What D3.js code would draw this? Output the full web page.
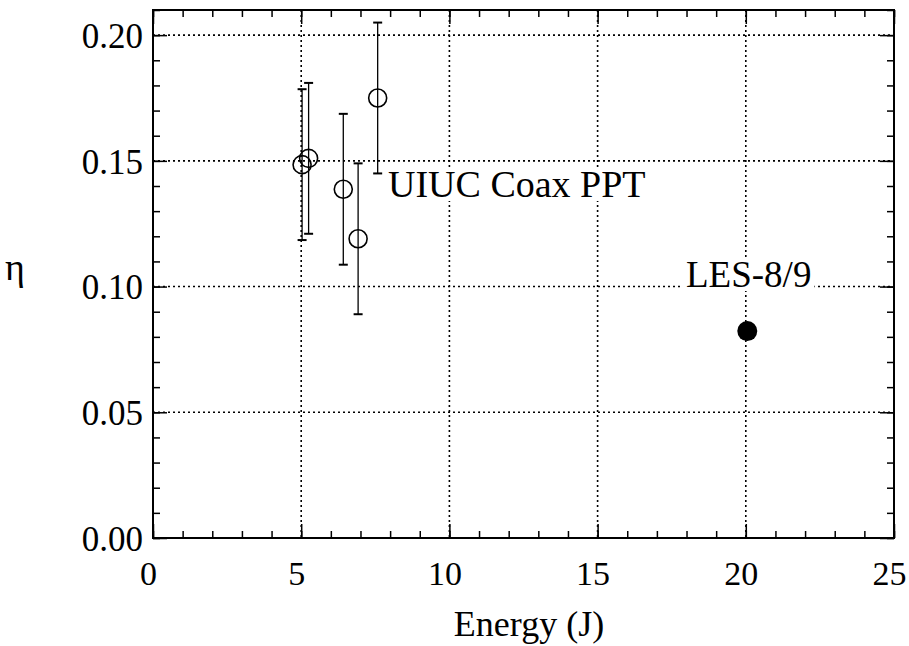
<!DOCTYPE html>
<html><head><meta charset="utf-8">
<script src="https://cdn.jsdelivr.net/npm/d3@7"></script>
<style>body{margin:0;background:#fff}svg{display:block}</style>
</head><body><svg id="c" width="909" height="646" font-family="Liberation Serif"></svg>
<script>
const uiucEnergy = [5.03, 5.25, 6.42, 6.92, 7.58];
const uiucEta    = [0.1485, 0.151, 0.1387, 0.119, 0.175];
const uiucErr    = [0.03, 0.03, 0.03, 0.03, 0.03];
const lesEnergy  = [20.05];
const lesEta     = [0.0823];
const xTicks = [0, 5, 10, 15, 20, 25];
const yTicks = [0.00, 0.05, 0.10, 0.15, 0.20];
const xMinor = d3.range(0, 25.01, 1);
const yMinor = d3.range(0, 0.2101, 0.01);

const FONT = "Liberation Serif";
const svg = d3.select("#c");
const L = 153, R = 894, T = 10, B = 538;
const x = d3.scaleLinear().domain([0, 25]).range([L, R]);
const y = d3.scaleLinear().domain([0, 0.21]).range([B, T]);

// grid
const grid = svg.append("g").attr("stroke", "#000").attr("stroke-width", 1.6).attr("stroke-dasharray", "2,3");
grid.selectAll(".gx").data(xTicks.filter(d => d > 0 && d < 25)).join("line")
  .attr("x1", d => x(d)).attr("x2", d => x(d)).attr("y1", T).attr("y2", B);
grid.selectAll(".gy").data(yTicks.filter(d => d > 0)).join("line")
  .attr("x1", L).attr("x2", R).attr("y1", d => y(d)).attr("y2", d => y(d));

function styleAxis(g){ g.select(".domain").remove(); g.selectAll("line").attr("stroke","#000").attr("stroke-width",1.5); g.attr("font-family", FONT); }
const fmtX = d3.format("d"), fmtY = d3.format(".2f");
svg.append("g").attr("transform", `translate(0,${B})`)
  .call(d3.axisBottom(x).tickValues(xMinor).tickSize(-7).tickFormat(""))
  .call(styleAxis);
svg.append("g").attr("transform", `translate(0,${B})`)
  .call(d3.axisBottom(x).tickValues(xTicks).tickSize(-14).tickPadding(47).tickFormat(fmtX))
  .call(styleAxis)
  .call(g => g.selectAll("text").attr("font-size", 34).attr("font-family", FONT).attr("fill", "#000").attr("dy", "0").attr("dx", -5));
svg.append("g").attr("transform", `translate(0,${T})`)
  .call(d3.axisTop(x).tickValues(xMinor).tickSize(-7).tickFormat("")).call(styleAxis);
svg.append("g").attr("transform", `translate(0,${T})`)
  .call(d3.axisTop(x).tickValues(xTicks).tickSize(-14).tickFormat("")).call(styleAxis);
svg.append("g").attr("transform", `translate(${L},0)`)
  .call(d3.axisLeft(y).tickValues(yMinor).tickSize(-7).tickFormat("")).call(styleAxis);
svg.append("g").attr("transform", `translate(${L},0)`)
  .call(d3.axisLeft(y).tickValues(yTicks).tickSize(-14).tickPadding(10).tickFormat(fmtY))
  .call(styleAxis)
  .call(g => g.selectAll("text").attr("font-size", 35).attr("font-family", FONT).attr("fill", "#000").attr("dy", "0.35em"));
svg.append("g").attr("transform", `translate(${R},0)`)
  .call(d3.axisRight(y).tickValues(yMinor).tickSize(-7).tickFormat("")).call(styleAxis);
svg.append("g").attr("transform", `translate(${R},0)`)
  .call(d3.axisRight(y).tickValues(yTicks).tickSize(-14).tickFormat("")).call(styleAxis);

// frame
svg.append("rect").attr("x", L).attr("y", T).attr("width", R - L).attr("height", B - T)
  .attr("fill", "none").attr("stroke", "#000").attr("stroke-width", 2);

// error bars
const uiuc = uiucEnergy.map((e, i) => ({e, v: uiucEta[i], err: uiucErr[i]}));
const eb = svg.append("g").attr("stroke", "#000");
eb.selectAll(".v").data(uiuc).join("line").attr("stroke-width", 1.3)
  .attr("x1", d => x(d.e)).attr("x2", d => x(d.e))
  .attr("y1", d => y(d.v - d.err)).attr("y2", d => y(d.v + d.err));
eb.selectAll(".t").data(uiuc).join("line").attr("stroke-width", 2)
  .attr("x1", d => x(d.e) - 4.5).attr("x2", d => x(d.e) + 4.5)
  .attr("y1", d => y(d.v + d.err)).attr("y2", d => y(d.v + d.err));
eb.selectAll(".b").data(uiuc).join("line").attr("stroke-width", 2)
  .attr("x1", d => x(d.e) - 4.5).attr("x2", d => x(d.e) + 4.5)
  .attr("y1", d => y(d.v - d.err)).attr("y2", d => y(d.v - d.err));

svg.append("g").selectAll("circle").data(uiuc).join("circle")
  .attr("cx", d => x(d.e)).attr("cy", d => y(d.v)).attr("r", 9)
  .attr("fill", "none").attr("stroke", "#000").attr("stroke-width", 1.6);

// LES label with white background
const les = svg.append("g");
const lt = les.append("text").attr("x", 686).attr("y", 287).attr("font-family", FONT).attr("font-size", 37).text("LES-8/9");
const bb = lt.node().getBBox();
les.insert("rect", "text").attr("x", bb.x - 3).attr("y", bb.y + 4).attr("width", bb.width + 6).attr("height", bb.height - 8).attr("fill", "#fff");

svg.append("g").selectAll("circle").data(lesEnergy.map((e, i) => ({e, v: lesEta[i]}))).join("circle")
  .attr("cx", d => x(d.e)).attr("cy", d => y(d.v)).attr("r", 10).attr("fill", "#000");

// annotation
const ut = svg.append("g");
const utx = ut.append("text").attr("x", 388).attr("y", 197).attr("font-family", FONT).attr("font-size", 38).text("UIUC Coax PPT");
const ub = utx.node().getBBox();
ut.insert("rect", "text").attr("x", ub.x - 2).attr("y", ub.y + 6).attr("width", ub.width + 4).attr("height", ub.height - 10).attr("fill", "#fff");

// axis titles
svg.append("text").attr("x", 529).attr("y", 636).attr("text-anchor", "middle").attr("font-family", FONT).attr("font-size", 36).text("Energy (J)");
svg.append("text").attr("x", 15).attr("y", 280).attr("text-anchor", "middle").attr("font-family", FONT).attr("font-size", 38).text("η");
</script></body></html>
